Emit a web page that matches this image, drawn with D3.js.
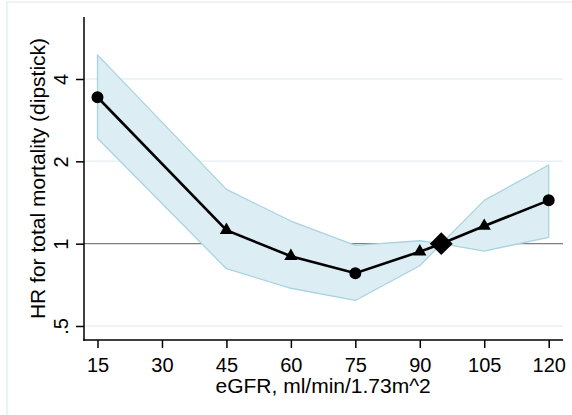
<!DOCTYPE html>
<html>
<head>
<meta charset="utf-8">
<script src="https://cdn.jsdelivr.net/npm/d3@7"></script>
<style>
  html, body { margin: 0; padding: 0; background: #fff; }
  svg { display: block; font-family: "Liberation Sans", Arial, sans-serif; }
</style>
</head>
<body>
<svg id="chart" width="572" height="415"></svg>
<script>
// eGFR categories (ml/min/1.73m^2) and hazard ratios with 95% CI
const egfr   = [15, 45, 60, 75, 90, 95, 105, 120];
const hr     = [3.43, 1.12, 0.90, 0.78, 0.935, 1.0, 1.16, 1.44];
const ciLow  = [2.43, 0.81, 0.687, 0.62, 0.83, 1.0, 0.94, 1.055];
const ciHigh = [4.9, 1.58, 1.21, 0.985, 1.025, 1.0, 1.44, 1.94];
const marker = ["circle", "triangle", "triangle", "circle", "triangle", "diamond", "triangle", "circle"];

const xTicks = [15, 30, 45, 60, 75, 90, 105, 120];
const yTicks = [0.5, 1, 2, 4];
const yTickLabels = [".5", "1", "2", "4"];
const xTitle = "eGFR, ml/min/1.73m^2";
const yTitle = "HR for total mortality (dipstick)";

const svg = d3.select("#chart");

// plot region
const plot = { left: 84, right: 563, top: 17, bottom: 340 };

const x = d3.scaleLinear().domain([15, 120]).range([97.5, 548.7]);
const y = d3.scaleLog().base(2).domain([0.5, 4]).range([326, 79]);

// outer frame
svg.append("rect")
  .attr("x", 7).attr("y", 2).attr("width", 620).attr("height", 460)
  .attr("fill", "none").attr("stroke", "#e7eff2").attr("stroke-width", 1.5);

// horizontal grid lines
svg.append("g").selectAll("line")
  .data(yTicks.filter(v => v !== 1))
  .join("line")
  .attr("x1", plot.left).attr("x2", plot.right)
  .attr("y1", d => y(d)).attr("y2", d => y(d))
  .attr("stroke", "#e9f0f3").attr("stroke-width", 1.5);

// reference line at HR = 1
svg.append("line")
  .attr("x1", plot.left).attr("x2", plot.right)
  .attr("y1", y(1)).attr("y2", y(1))
  .attr("stroke", "#808080").attr("stroke-width", 1.2);

// confidence band
const rows = egfr.map((e, i) => ({ e, hr: hr[i], lo: ciLow[i], hi: ciHigh[i], m: marker[i] }));
svg.append("path")
  .datum(rows)
  .attr("d", d3.area().x(d => x(d.e)).y0(d => y(d.lo)).y1(d => y(d.hi)))
  .attr("fill", "#dcedf3")
  .attr("stroke", "#a8d4e0")
  .attr("stroke-width", 1.3)
  .attr("stroke-linejoin", "round");

// estimate line
svg.append("path")
  .datum(rows)
  .attr("d", d3.line().x(d => x(d.e)).y(d => y(d.hr)))
  .attr("fill", "none").attr("stroke", "#000").attr("stroke-width", 2.6);

// markers
const sym = {
  circle: d3.symbol().type(d3.symbolCircle).size(113)(),
  triangle: d3.symbol().type(d3.symbolTriangle).size(76)(),
  diamond: d3.symbol().type(d3.symbolSquare).size(262)()
};
svg.append("g").selectAll("path")
  .data(rows)
  .join("path")
  .attr("d", d => sym[d.m])
  .attr("transform", d => `translate(${x(d.e)},${y(d.hr)})` + (d.m === "diamond" ? " rotate(45)" : ""))
  .attr("fill", "#000");

// x axis
const xAxis = svg.append("g")
  .attr("transform", `translate(0,${plot.bottom})`)
  .call(d3.axisBottom(x).tickValues(xTicks).tickSize(8).tickSizeOuter(0).tickPadding(0));
xAxis.select(".domain").remove();
xAxis.selectAll(".tick line").attr("stroke", "#000").attr("stroke-width", 1.5);
xAxis.selectAll(".tick text")
  .attr("y", 32).attr("dy", null)
  .attr("font-size", 20).attr("fill", "#000")
  .attr("font-family", "Liberation Sans, Arial, sans-serif");
svg.append("line")
  .attr("x1", plot.left - 0.75).attr("x2", plot.right)
  .attr("y1", plot.bottom).attr("y2", plot.bottom)
  .attr("stroke", "#000").attr("stroke-width", 1.5);

// y axis
const yAxis = svg.append("g")
  .attr("transform", `translate(${plot.left},0)`)
  .call(d3.axisLeft(y).tickValues(yTicks).tickFormat((d, i) => yTickLabels[i]).tickSize(8).tickSizeOuter(0));
yAxis.select(".domain").remove();
yAxis.selectAll(".tick line").attr("stroke", "#000").attr("stroke-width", 1.5);
yAxis.selectAll(".tick text")
  .attr("x", null).attr("dy", null)
  .attr("transform", "translate(-15.7,0) rotate(-90)")
  .attr("text-anchor", "middle")
  .attr("font-size", 20).attr("fill", "#000")
  .attr("font-family", "Liberation Sans, Arial, sans-serif");
svg.append("line")
  .attr("x1", plot.left).attr("x2", plot.left)
  .attr("y1", plot.top).attr("y2", plot.bottom + 0.75)
  .attr("stroke", "#000").attr("stroke-width", 1.5);

// axis titles
svg.append("text")
  .attr("x", (x(15) + x(120)) / 2).attr("y", 393)
  .attr("text-anchor", "middle").attr("font-size", 21).attr("fill", "#000")
  .text(xTitle);
svg.append("text")
  .attr("transform", `translate(45,${(plot.top + plot.bottom) / 2}) rotate(-90)`)
  .attr("text-anchor", "middle").attr("font-size", 21).attr("fill", "#000")
  .text(yTitle);
</script>
</body>
</html>
